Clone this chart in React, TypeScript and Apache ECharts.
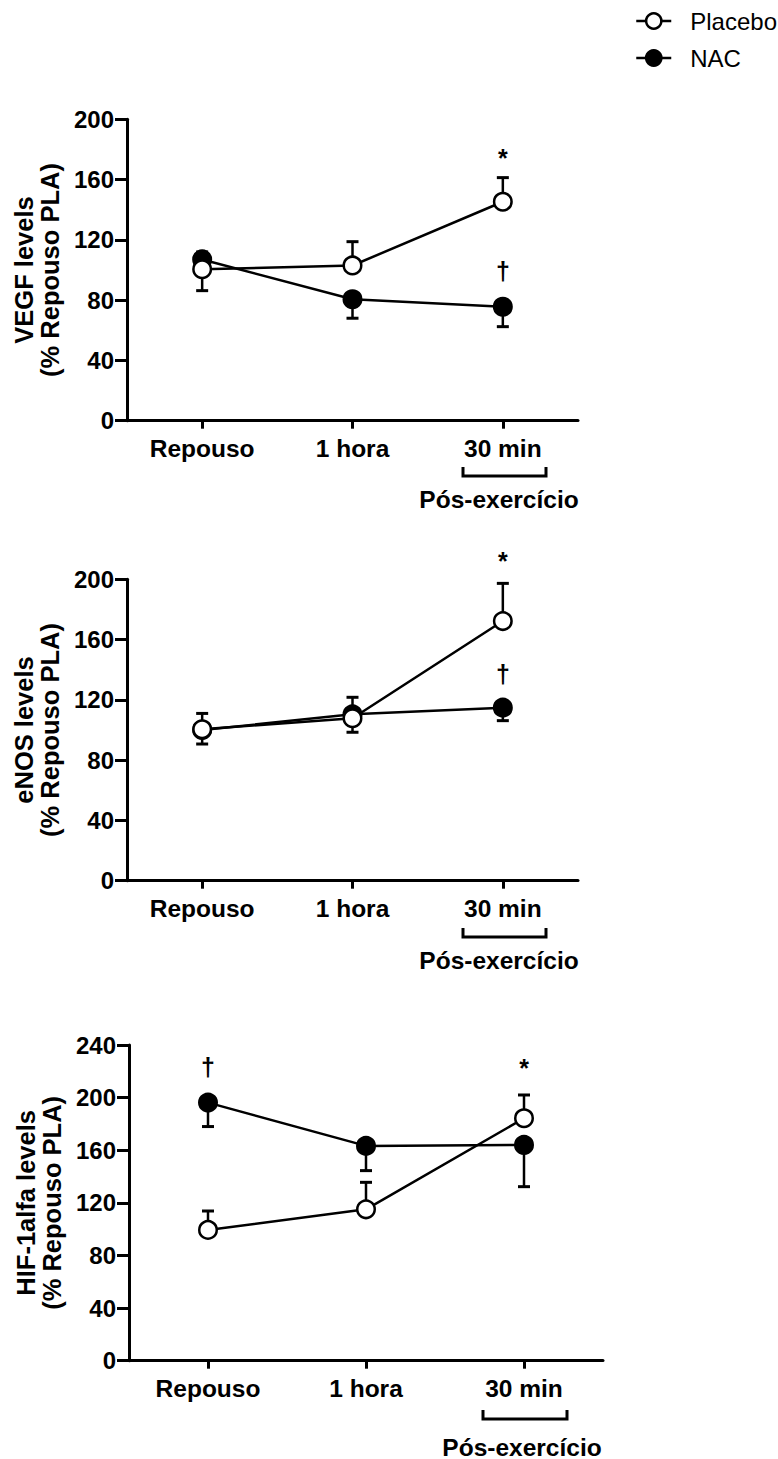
import React, { useEffect, useRef } from "react";
import * as echarts from "echarts";

const FONT = "'Liberation Sans', Arial, sans-serif";

const categories = ["Repouso", "1 hora", "30 min"];
const seriesNames = ["Placebo", "NAC"];

// VEGF (% Repouso PLA): means and error-bar ends
const vegfPlacebo = [100.5, 103, 145.3];
const vegfPlaceboErr = [86.3, 118.8, 161.3];
const vegfNac = [107, 80.6, 75.6];
const vegfNacErr = [112, 68, 62.4];

// eNOS (% Repouso PLA)
const enosPlacebo = [100.5, 107.8, 172.3];
const enosPlaceboErr = [111, 98.5, 197.3];
const enosNac = [100, 110.4, 114.8];
const enosNacErr = [90.7, 121.7, 106.2];

// HIF-1alfa (% Repouso PLA)
const hifPlacebo = [99.4, 115.1, 184.3];
const hifPlaceboErr = [113.8, 135.6, 202];
const hifNac = [196.2, 163.3, 164];
const hifNacErr = [178, 144.5, 132.3];

// Significance marks: [category index, value, symbol]
const vegfMarks: [number, number, string][] = [
  [2, 174.6, "*"],
  [2, 99.3, "†"],
];
const enosMarks: [number, number, string][] = [
  [2, 212, "*"],
  [2, 137.4, "†"],
];
const hifMarks: [number, number, string][] = [
  [0, 223.5, "†"],
  [2, 222.6, "*"],
];

const yTitles = [
  "VEGF levels\n(% Repouso PLA)",
  "eNOS levels\n(% Repouso PLA)",
  "HIF-1alfa levels\n(% Repouso PLA)",
];
const yMax = [200, 200, 240];
const yStep = 40;
const bracketLabel = "Pós-exercício";

const grids = [
  { left: 127, top: 119.3, width: 451, height: 301.4 },
  { left: 127, top: 579.3, width: 451, height: 301.4 },
  { left: 129, top: 1045, width: 474, height: 315.7 },
];

const labelStyle = {
  color: "#000",
  fontSize: 24.5,
  fontWeight: "bold" as const,
  fontFamily: FONT,
};

function lineSeries(name: string, idx: number, values: number[], filled: boolean) {
  return {
    type: "line",
    name,
    xAxisIndex: idx,
    yAxisIndex: idx,
    data: values,
    symbol: "circle",
    symbolSize: 17.5,
    lineStyle: { color: "#000", width: 2.5 },
    itemStyle: {
      color: filled ? "#000" : "#fff",
      borderColor: "#000",
      borderWidth: 2.5,
    },
    z: filled ? 3 : 4,
  };
}

function errorSeries(idx: number, values: number[], ends: number[]) {
  return {
    type: "custom",
    xAxisIndex: idx,
    yAxisIndex: idx,
    silent: true,
    z: 1,
    encode: { x: 0, y: [1, 2] },
    data: values.map((v, i) => [i, v, ends[i]]),
    renderItem: (_params: any, api: any) => {
      const p0 = api.coord([api.value(0), api.value(1)]);
      const p1 = api.coord([api.value(0), api.value(2)]);
      const half = 6;
      return {
        type: "group",
        children: [
          {
            type: "line",
            shape: { x1: p0[0], y1: p0[1], x2: p1[0], y2: p1[1] },
            style: { stroke: "#000", lineWidth: 2.5 },
          },
          {
            type: "line",
            shape: { x1: p1[0] - half, y1: p1[1], x2: p1[0] + half, y2: p1[1] },
            style: { stroke: "#000", lineWidth: 3 },
          },
        ],
      };
    },
  };
}

function markSeries(idx: number, marks: [number, number, string][]) {
  return {
    type: "custom",
    xAxisIndex: idx,
    yAxisIndex: idx,
    silent: true,
    z: 5,
    data: marks.map((m) => [m[0], m[1]]),
    renderItem: (params: any, api: any) => {
      const p = api.coord([api.value(0), api.value(1)]);
      return {
        type: "text",
        x: p[0],
        y: p[1],
        style: {
          text: marks[params.dataIndex][2],
          fill: "#000",
          font: `bold 25px ${FONT}`,
          textAlign: "center",
          textVerticalAlign: "middle",
        },
      };
    },
  };
}

function bracket(x1: number, x2: number, yTop: number, yBottom: number, textX: number, textY: number) {
  return [
    {
      type: "polyline",
      shape: {
        points: [
          [x1, yTop],
          [x1, yBottom],
          [x2, yBottom],
          [x2, yTop],
        ],
      },
      style: { stroke: "#000", lineWidth: 3, fill: "none" },
    },
    {
      type: "text",
      x: textX,
      y: textY,
      style: {
        text: bracketLabel,
        fill: "#000",
        font: `bold 24.5px ${FONT}`,
        textAlign: "center",
        textVerticalAlign: "middle",
      },
    },
  ];
}

export default function App() {
  const ref = useRef<HTMLDivElement>(null);

  useEffect(() => {
    if (!ref.current) return;
    const chart = echarts.init(ref.current, null, { renderer: "svg" });

    const xAxis = grids.map((_, i) => ({
      gridIndex: i,
      type: "category",
      data: categories,
      boundaryGap: true,
      axisLine: { show: true, lineStyle: { color: "#000", width: 3 } },
      axisTick: { show: true, alignWithLabel: true, length: 8, lineStyle: { color: "#000", width: 3 } },
      axisLabel: { ...labelStyle, margin: 15 },
      splitLine: { show: false },
    }));

    const yAxis = grids.map((_, i) => ({
      gridIndex: i,
      type: "value",
      min: 0,
      max: yMax[i],
      interval: yStep,
      axisLine: { show: true, lineStyle: { color: "#000", width: 3 } },
      axisTick: { show: true, length: 12, lineStyle: { color: "#000", width: 3 } },
      axisLabel: { ...labelStyle, fontSize: 24, margin: 13 },
      splitLine: { show: false },
      name: yTitles[i],
      nameLocation: "middle",
      nameRotate: 90,
      nameGap: 53,
      nameTextStyle: { ...labelStyle, fontSize: 25.5, lineHeight: 26 },
    }));

    const option = {
      animation: false,
      backgroundColor: "#fff",
      textStyle: { fontFamily: FONT },
      legend: {
        data: seriesNames,
        orient: "vertical",
        left: 630,
        top: 4,
        itemWidth: 35,
        itemHeight: 19,
        itemGap: 13,
        selectedMode: false,
        textStyle: { color: "#000", fontSize: 24, fontFamily: FONT, padding: [0, 0, 0, 14] },
        itemStyle: { borderWidth: 2.5 },
        lineStyle: { width: 2.5 },
      },
      grid: grids,
      xAxis,
      yAxis,
      series: [
        errorSeries(0, vegfNac, vegfNacErr),
        errorSeries(0, vegfPlacebo, vegfPlaceboErr),
        lineSeries("NAC", 0, vegfNac, true),
        lineSeries("Placebo", 0, vegfPlacebo, false),
        markSeries(0, vegfMarks),

        errorSeries(1, enosNac, enosNacErr),
        errorSeries(1, enosPlacebo, enosPlaceboErr),
        lineSeries("NAC", 1, enosNac, true),
        lineSeries("Placebo", 1, enosPlacebo, false),
        markSeries(1, enosMarks),

        errorSeries(2, hifNac, hifNacErr),
        errorSeries(2, hifPlacebo, hifPlaceboErr),
        lineSeries("NAC", 2, hifNac, true),
        lineSeries("Placebo", 2, hifPlacebo, false),
        markSeries(2, hifMarks),
      ],
      graphic: [
        ...bracket(463, 546, 467, 476, 499, 499),
        ...bracket(463, 546, 928, 937, 499, 960),
        ...bracket(483, 567, 1410, 1419, 522, 1447),
      ],
    };

    chart.setOption(option as any);
    return () => chart.dispose();
  }, []);

  return (
    <div
      ref={ref}
      style={{ position: "absolute", left: 0, top: 0, width: 778, height: 1459 }}
    />
  );
}
